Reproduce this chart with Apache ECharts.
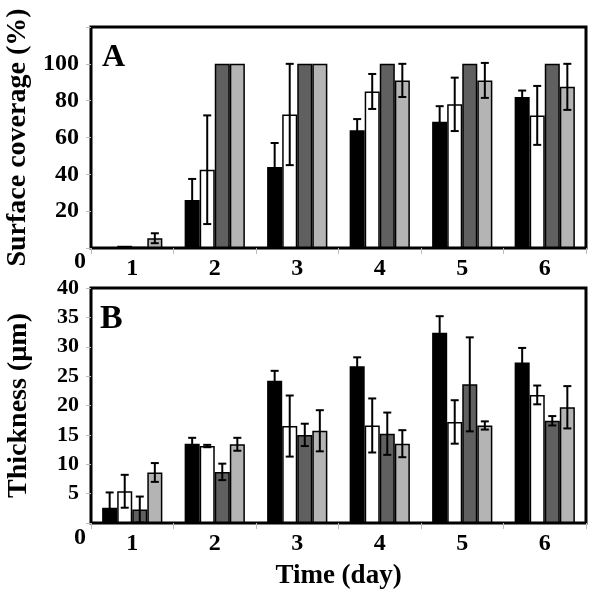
<!DOCTYPE html>
<html><head><meta charset="utf-8">
<script src="https://cdn.jsdelivr.net/npm/echarts@6/dist/echarts.min.js"></script>
<style>html,body{margin:0;padding:0;background:#fff}#c{width:600px;height:596px}</style>
</head><body><div id="c"></div>
<script>
const days = ['1','2','3','4','5','6'];
// Panel A: surface coverage (%)
const covBlack = [0.4, 26, 44, 64, 68.5, 82];
const covBlackErr = [0, 11.5, 13, 6, 8.5, 3.5];
const covWhite = [1.2, 42.5, 72.5, 85, 78, 72];
const covWhiteErr = [0, 29.5, 27.5, 9.5, 14.5, 16];
const covDark = [0.6, 100, 100, 100, 100, 100];
const covDarkErr = [0, 0, 0, 0, 0, 0];
const covLight = [5.3, 100, 100, 91, 91, 87.5];
const covLightErr = [2.7, 0, 0, 9, 9.5, 12.5];
// Panel B: thickness (µm)
const thBlack = [2.6, 13.5, 24.2, 26.7, 32.4, 27.3];
const thBlackErr = [2.6, 1.0, 1.7, 1.5, 2.8, 2.5];
const thWhite = [5.4, 13.1, 16.5, 16.6, 17.2, 21.8];
const thWhiteErr = [2.8, 0.2, 5.2, 4.6, 3.7, 1.6];
const thDark = [2.3, 8.7, 15.0, 15.2, 23.6, 17.4];
const thDarkErr = [2.2, 1.4, 1.9, 3.6, 8.0, 0.8];
const thLight = [8.6, 13.4, 15.7, 13.5, 16.6, 19.7];
const thLightErr = [1.6, 1.1, 3.5, 2.3, 0.7, 3.6];
const yTicksA = [20, 40, 60, 80, 100];
const yTicksB = [5, 10, 15, 20, 25, 30, 35, 40];

const colors = ['#000000', '#ffffff', '#606060', '#b4b4b4'];
const FONT = '"Liberation Serif", "Times New Roman", serif';
const GAP = 0.27;

function bars(vals, i, gi) {
  return {
    type: 'bar', xAxisIndex: gi, yAxisIndex: gi, data: vals,
    barGap: '0%', barCategoryGap: (GAP * 100) + '%',
    itemStyle: { color: colors[i], borderColor: '#000', borderWidth: 1.5 },
    z: 2
  };
}
function errs(valsList, errList, gi) {
  const data = [];
  valsList.forEach((vals, k) => vals.forEach((v, c) => data.push([c, v, errList[k][c], k])));
  return {
    type: 'custom', xAxisIndex: gi, yAxisIndex: gi, data: data, z: 5,
    renderItem: function (params, api) {
      const c = api.value(0), v = api.value(1), e = api.value(2), k = api.value(3);
      if (!e) return null;
      const band = api.size([1, 0])[0];
      const w = band * (1 - GAP) / 4;
      const x = api.coord([c, v])[0] + (k - 1.5) * w;
      const yt = api.coord([c, v + e])[1];
      const yb = api.coord([c, v - e])[1];
      const h = 4;
      const st = { stroke: '#000', lineWidth: 2 };
      return { type: 'group', children: [
        { type: 'line', shape: { x1: x, y1: yt, x2: x, y2: yb }, style: st },
        { type: 'line', shape: { x1: x - h, y1: yt, x2: x + h, y2: yt }, style: st },
        { type: 'line', shape: { x1: x - h, y1: yb, x2: x + h, y2: yb }, style: st }
      ]};
    }
  };
}
function yAx(gi, max, interval, ticks, name, fs, gap) {
  return {
    type: 'value', gridIndex: gi, min: 0, max: max, interval: interval,
    name: name, nameLocation: 'middle', nameGap: gap, nameRotate: 90,
    nameTextStyle: { fontFamily: FONT, fontWeight: 'bold', fontSize: 28, color: '#000' },
    axisLine: { show: false },
    axisTick: { show: true, length: 5, lineStyle: { color: '#bbbbbb', width: 1 } },
    splitLine: { show: false },
    axisLabel: {
      margin: 12, fontFamily: FONT, fontWeight: 'bold', fontSize: fs, color: '#000',
      formatter: v => ticks.indexOf(v) >= 0 ? String(v) : ''
    }
  };
}
function xAx(gi, name) {
  return {
    type: 'category', gridIndex: gi, data: days,
    name: name, nameLocation: 'middle', nameGap: 40,
    nameTextStyle: { fontFamily: FONT, fontWeight: 'bold', fontSize: 27, color: '#000' },
    axisLine: { show: false },
    axisTick: { show: true, length: 6, lineStyle: { color: '#bbbbbb', width: 1 } },
    axisLabel: { margin: 9, fontFamily: FONT, fontWeight: 'bold', fontSize: 24, color: '#000' }
  };
}

const chart = echarts.init(document.getElementById('c'), null, { renderer: 'canvas' });
chart.setOption({
  animation: false,
  backgroundColor: '#fff',
  grid: [
    { left: 91, top: 27, width: 495, height: 221, containLabel: false, outerBoundsMode: 'none', show: true, borderColor: '#000', borderWidth: 3, backgroundColor: 'transparent' },
    { left: 91, top: 288, width: 495, height: 235, containLabel: false, outerBoundsMode: 'none', show: true, borderColor: '#000', borderWidth: 3, backgroundColor: 'transparent' }
  ],
  xAxis: [xAx(0, ''), xAx(1, 'Time (day)')],
  yAxis: [
    yAx(0, 120, 20, yTicksA, 'Surface coverage (%)', 24, 58),
    yAx(1, 40, 5, yTicksB, 'Thickness (µm)', 22, 58)
  ],
  series: [
    bars(covBlack, 0, 0), bars(covWhite, 1, 0), bars(covDark, 2, 0), bars(covLight, 3, 0),
    errs([covBlack, covWhite, covDark, covLight], [covBlackErr, covWhiteErr, covDarkErr, covLightErr], 0),
    bars(thBlack, 0, 1), bars(thWhite, 1, 1), bars(thDark, 2, 1), bars(thLight, 3, 1),
    errs([thBlack, thWhite, thDark, thLight], [thBlackErr, thWhiteErr, thDarkErr, thLightErr], 1)
  ],
  graphic: [
    { type: 'text', left: 102, top: 42, style: { text: 'A', font: 'bold 32px ' + FONT, fill: '#000' } },
    { type: 'text', left: 100, top: 302, style: { text: 'B', font: 'bold 34px ' + FONT, fill: '#000' } },
    { type: 'text', left: 74, top: 250, style: { text: '0', font: 'bold 24px ' + FONT, fill: '#000' } },
    { type: 'text', left: 74, top: 526, style: { text: '0', font: 'bold 24px ' + FONT, fill: '#000' } }
  ]
});
</script></body></html>
